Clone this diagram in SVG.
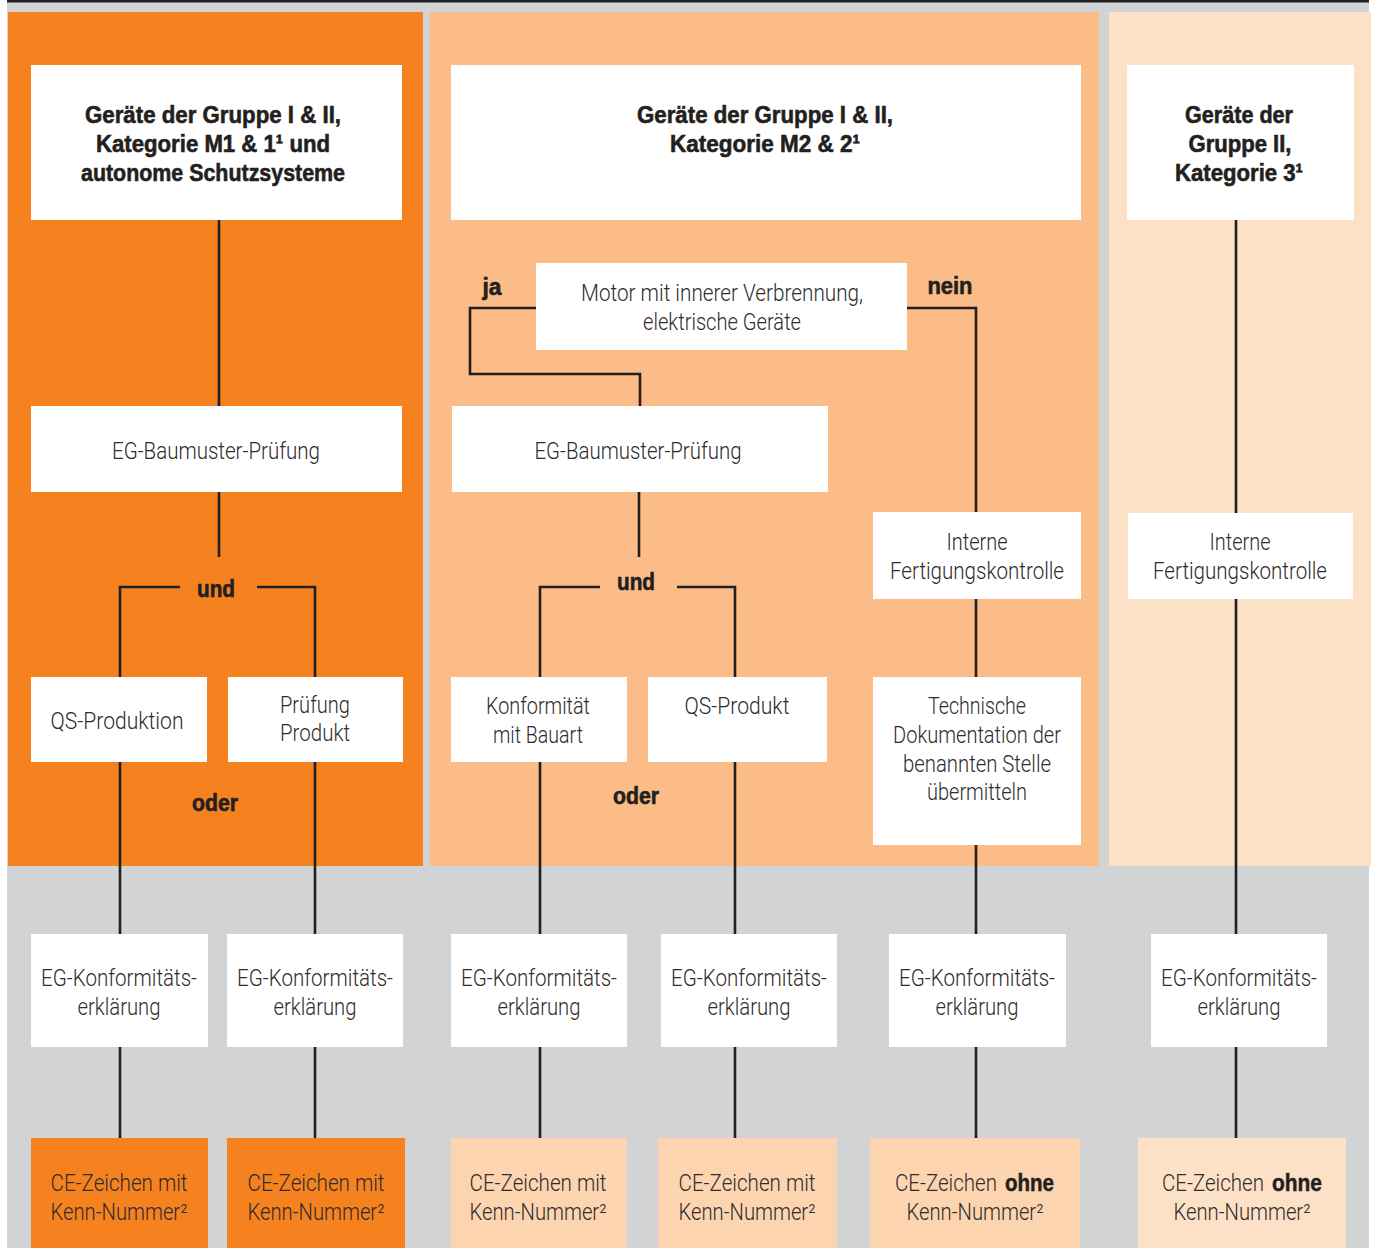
<svg xmlns="http://www.w3.org/2000/svg" width="1376" height="1248" viewBox="0 0 1376 1248">
<style>
.box{fill:#ffffff}
.ln{stroke:#231f20;stroke-width:2.6;fill:none}
.t{font-family:Roboto,"Liberation Sans",sans-serif;font-weight:300;font-size:23px;fill:#2e2c2d;text-anchor:middle}
.h{font-family:"Liberation Sans",Arial,sans-serif;font-size:24px;font-weight:bold;fill:#231f20;stroke:#231f20;stroke-width:0.6;text-anchor:middle}
.l{text-anchor:start}
.b{font-family:"Liberation Sans",Arial,sans-serif;font-size:24px;font-weight:bold;fill:#231f20;stroke:#231f20;stroke-width:0.5}
</style>
<rect x="0" y="0" width="1376" height="1248" fill="#ffffff"/>
<rect x="7" y="0" width="1362" height="1248" fill="#d1d3d4"/>
<rect x="7" y="0" width="1362" height="2.5" fill="#231f20"/>
<rect x="8" y="12" width="415" height="854" fill="#f5821f"/>
<rect x="430" y="12" width="669" height="854" fill="#fbbc87"/>
<rect x="1109" y="12" width="262" height="854" fill="#fde1c6"/>

<g id="connectors">
<path class="ln" d="M219 220V406M219 492V557"/>
<path class="ln" d="M120 677V587H180M257 587H315V677"/>
<path class="ln" d="M120 762V934M120 1047V1138M315 762V934M315 1047V1138"/>
<path class="ln" d="M536 308H470V374H640V406"/>
<path class="ln" d="M907 308H976V512"/>
<path class="ln" d="M639 492V557"/>
<path class="ln" d="M540 677V587H600M677 587H735V677"/>
<path class="ln" d="M540 762V934M540 1047V1138M735 762V934M735 1047V1138"/>
<path class="ln" d="M976 599V677M976 845V934M976 1047V1138"/>
<path class="ln" d="M1236 220V513M1236 599V934M1236 1047V1138"/>
</g>

<g id="labels">
<text class="h" x="216" y="597" textLength="38" lengthAdjust="spacingAndGlyphs">und</text>
<text class="h" x="215" y="811" textLength="46" lengthAdjust="spacingAndGlyphs">oder</text>
<text class="h" x="492" y="295" textLength="19" lengthAdjust="spacingAndGlyphs">ja</text>
<text class="h" x="950" y="294" textLength="45" lengthAdjust="spacingAndGlyphs">nein</text>
<text class="h" x="636" y="590" textLength="38" lengthAdjust="spacingAndGlyphs">und</text>
<text class="h" x="636" y="804" textLength="46" lengthAdjust="spacingAndGlyphs">oder</text>
</g>

<g id="n1-header"><rect class="box" x="31" y="65" width="371" height="155"/>
<text class="h" x="213" y="123" textLength="256" lengthAdjust="spacingAndGlyphs">Geräte der Gruppe I &amp; II,</text>
<text class="h" x="213" y="152" textLength="234" lengthAdjust="spacingAndGlyphs">Kategorie M1 &amp; 1¹ und</text>
<text class="h" x="213" y="181" textLength="264" lengthAdjust="spacingAndGlyphs">autonome Schutzsysteme</text></g>
<g id="n1-baumuster"><rect class="box" x="31" y="406" width="371" height="86"/>
<text class="t" x="216" y="459" textLength="208" lengthAdjust="spacingAndGlyphs">EG-Baumuster-Prüfung</text></g>
<g id="n1-qs"><rect class="box" x="31" y="677" width="176" height="85"/>
<text class="t" x="117" y="729" textLength="133" lengthAdjust="spacingAndGlyphs">QS-Produktion</text></g>
<g id="n1-pruefung"><rect class="box" x="228" y="677" width="175" height="85"/>
<text class="t" x="315" y="713" textLength="70" lengthAdjust="spacingAndGlyphs">Prüfung</text><text class="t" x="315" y="741" textLength="70" lengthAdjust="spacingAndGlyphs">Produkt</text></g>
<g id="n1-konf1"><rect class="box" x="31" y="934" width="177" height="113"/>
<text class="t" x="119" y="986" textLength="156" lengthAdjust="spacingAndGlyphs">EG-Konformitäts-</text><text class="t" x="119" y="1015" textLength="83" lengthAdjust="spacingAndGlyphs">erklärung</text></g>
<g id="n1-konf2"><rect class="box" x="227" y="934" width="176" height="113"/>
<text class="t" x="315" y="986" textLength="156" lengthAdjust="spacingAndGlyphs">EG-Konformitäts-</text><text class="t" x="315" y="1015" textLength="83" lengthAdjust="spacingAndGlyphs">erklärung</text></g>
<g id="n1-ce1"><rect x="31" y="1138" width="177" height="110" fill="#f5821f"/>
<text class="t" x="119" y="1191" textLength="137" lengthAdjust="spacingAndGlyphs">CE-Zeichen mit</text><text class="t" x="119" y="1220" textLength="137" lengthAdjust="spacingAndGlyphs">Kenn-Nummer²</text></g>
<g id="n1-ce2"><rect x="227" y="1138" width="178" height="110" fill="#f5821f"/>
<text class="t" x="316" y="1191" textLength="137" lengthAdjust="spacingAndGlyphs">CE-Zeichen mit</text><text class="t" x="316" y="1220" textLength="137" lengthAdjust="spacingAndGlyphs">Kenn-Nummer²</text></g>

<g id="n2-header"><rect class="box" x="451" y="65" width="630" height="155"/>
<text class="h" x="765" y="123" textLength="256" lengthAdjust="spacingAndGlyphs">Geräte der Gruppe I &amp; II,</text>
<text class="h" x="765" y="152" textLength="190" lengthAdjust="spacingAndGlyphs">Kategorie M2 &amp; 2¹</text></g>
<g id="n2-motor"><rect class="box" x="536" y="263" width="371" height="87"/>
<text class="t" x="722" y="301" textLength="282" lengthAdjust="spacingAndGlyphs">Motor mit innerer Verbrennung,</text><text class="t" x="722" y="330" textLength="158" lengthAdjust="spacingAndGlyphs">elektrische Geräte</text></g>
<g id="n2-baumuster"><rect class="box" x="452" y="406" width="376" height="86"/>
<text class="t" x="638" y="459" textLength="207" lengthAdjust="spacingAndGlyphs">EG-Baumuster-Prüfung</text></g>
<g id="n2-bauart"><rect class="box" x="451" y="677" width="176" height="85"/>
<text class="t" x="538" y="714" textLength="104" lengthAdjust="spacingAndGlyphs">Konformität</text><text class="t" x="538" y="743" textLength="90" lengthAdjust="spacingAndGlyphs">mit Bauart</text></g>
<g id="n2-qs"><rect class="box" x="648" y="677" width="179" height="85"/>
<text class="t" x="737" y="714" textLength="105" lengthAdjust="spacingAndGlyphs">QS-Produkt</text></g>
<g id="n2-intern"><rect class="box" x="873" y="512" width="208" height="87"/>
<text class="t" x="977" y="550" textLength="61" lengthAdjust="spacingAndGlyphs">Interne</text><text class="t" x="977" y="579" textLength="174" lengthAdjust="spacingAndGlyphs">Fertigungskontrolle</text></g>
<g id="n2-doku"><rect class="box" x="873" y="677" width="208" height="168"/>
<text class="t" x="977" y="714" textLength="98" lengthAdjust="spacingAndGlyphs">Technische</text><text class="t" x="977" y="743" textLength="168" lengthAdjust="spacingAndGlyphs">Dokumentation der</text>
<text class="t" x="977" y="772" textLength="148" lengthAdjust="spacingAndGlyphs">benannten Stelle</text><text class="t" x="977" y="800" textLength="100" lengthAdjust="spacingAndGlyphs">übermitteln</text></g>
<g id="n2-konf1"><rect class="box" x="451" y="934" width="176" height="113"/>
<text class="t" x="539" y="986" textLength="156" lengthAdjust="spacingAndGlyphs">EG-Konformitäts-</text><text class="t" x="539" y="1015" textLength="83" lengthAdjust="spacingAndGlyphs">erklärung</text></g>
<g id="n2-konf2"><rect class="box" x="661" y="934" width="176" height="113"/>
<text class="t" x="749" y="986" textLength="156" lengthAdjust="spacingAndGlyphs">EG-Konformitäts-</text><text class="t" x="749" y="1015" textLength="83" lengthAdjust="spacingAndGlyphs">erklärung</text></g>
<g id="n2-konf3"><rect class="box" x="889" y="934" width="177" height="113"/>
<text class="t" x="977" y="986" textLength="156" lengthAdjust="spacingAndGlyphs">EG-Konformitäts-</text><text class="t" x="977" y="1015" textLength="83" lengthAdjust="spacingAndGlyphs">erklärung</text></g>
<g id="n2-ce1"><rect x="451" y="1138" width="176" height="110" fill="#fdd4b0"/>
<text class="t" x="538" y="1191" textLength="137" lengthAdjust="spacingAndGlyphs">CE-Zeichen mit</text><text class="t" x="538" y="1220" textLength="137" lengthAdjust="spacingAndGlyphs">Kenn-Nummer²</text></g>
<g id="n2-ce2"><rect x="658" y="1138" width="179" height="110" fill="#fdd4b0"/>
<text class="t" x="747" y="1191" textLength="137" lengthAdjust="spacingAndGlyphs">CE-Zeichen mit</text><text class="t" x="747" y="1220" textLength="137" lengthAdjust="spacingAndGlyphs">Kenn-Nummer²</text></g>
<g id="n2-ce3"><rect x="870" y="1138" width="210" height="110" fill="#fdd4b0"/>
<text class="t l" x="895" y="1191" textLength="102" lengthAdjust="spacingAndGlyphs">CE-Zeichen</text><text class="b" x="1005" y="1191" textLength="49" lengthAdjust="spacingAndGlyphs">ohne</text>
<text class="t" x="975" y="1220" textLength="137" lengthAdjust="spacingAndGlyphs">Kenn-Nummer²</text></g>

<g id="n3-header"><rect class="box" x="1127" y="65" width="227" height="155"/>
<text class="h" x="1239" y="123" textLength="108" lengthAdjust="spacingAndGlyphs">Geräte der</text>
<text class="h" x="1240" y="152" textLength="103" lengthAdjust="spacingAndGlyphs">Gruppe II,</text>
<text class="h" x="1239" y="181" textLength="128" lengthAdjust="spacingAndGlyphs">Kategorie 3¹</text></g>
<g id="n3-intern"><rect class="box" x="1128" y="513" width="225" height="86"/>
<text class="t" x="1240" y="550" textLength="61" lengthAdjust="spacingAndGlyphs">Interne</text><text class="t" x="1240" y="579" textLength="174" lengthAdjust="spacingAndGlyphs">Fertigungskontrolle</text></g>
<g id="n3-konf"><rect class="box" x="1151" y="934" width="176" height="113"/>
<text class="t" x="1239" y="986" textLength="156" lengthAdjust="spacingAndGlyphs">EG-Konformitäts-</text><text class="t" x="1239" y="1015" textLength="83" lengthAdjust="spacingAndGlyphs">erklärung</text></g>
<g id="n3-ce"><rect x="1138" y="1138" width="208" height="110" fill="#fde1c6"/>
<text class="t l" x="1162" y="1191" textLength="102" lengthAdjust="spacingAndGlyphs">CE-Zeichen</text><text class="b" x="1272" y="1191" textLength="50" lengthAdjust="spacingAndGlyphs">ohne</text>
<text class="t" x="1242" y="1220" textLength="137" lengthAdjust="spacingAndGlyphs">Kenn-Nummer²</text></g>
</svg>
